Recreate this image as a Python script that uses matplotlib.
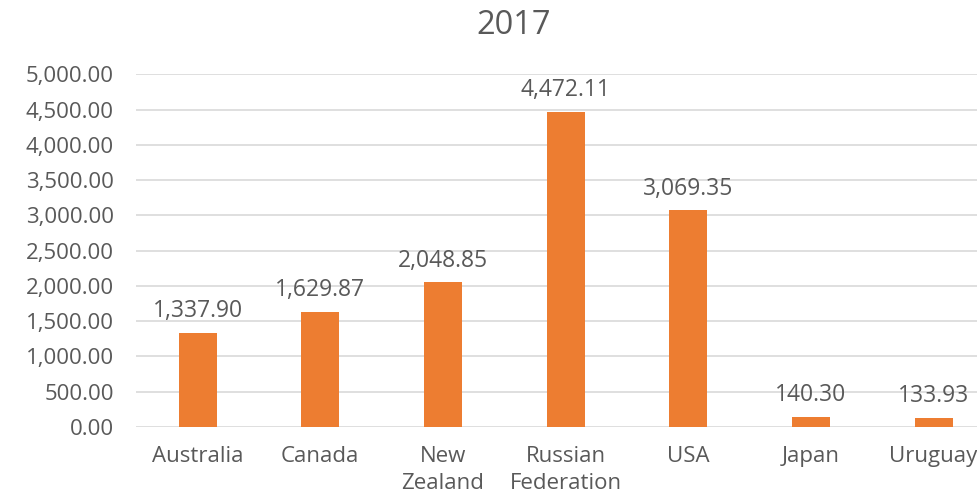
import matplotlib.pyplot as plt
import matplotlib.ticker as ticker

countries = ['Australia', 'Canada', 'New\nZealand', 'Russian\nFederation', 'USA', 'Japan', 'Uruguay']
values = [1337.90, 1629.87, 2048.85, 4472.11, 3069.35, 140.30, 133.93]

plt.rcParams['font.family'] = ['Open Sans', 'DejaVu Sans']
grey = '#595959'

fig = plt.figure(figsize=(9.78, 4.9), dpi=100)
# plot area runs a bit past the right edge, like the cropped original
ax = fig.add_axes([136.2/978, 1-427/490, 858.7/978, (427-74.3)/490])

x = range(len(countries))
bars = ax.bar(x, values, width=0.31, color='#ED7D31', zorder=3)
for b, v in zip(bars, values):
    ax.annotate(f'{v:,.2f}', (b.get_x()+b.get_width()/2, v), xytext=(0, 7),
                textcoords='offset points', ha='center', va='bottom',
                fontsize=16.5, color=grey)

ax.set_xlim(-0.5, len(countries)-0.5)
ax.set_ylim(0, 5000)
ax.set_yticks(range(0, 5001, 500))
ax.yaxis.set_major_formatter(ticker.FuncFormatter(lambda v, p: f'{v:,.2f}'))
ax.set_xticks(list(x))
ax.set_xticklabels(countries, linespacing=1.32)
ax.tick_params(axis='both', length=0, labelsize=16, colors=grey)
ax.tick_params(axis='y', pad=16)
ax.tick_params(axis='x', pad=14)
ax.grid(axis='y', color='#d9d9d9', linewidth=1.2, zorder=0)
for s in ax.spines.values():
    s.set_visible(False)

fig.text(514/978, 1-25/490, '2017', ha='center', va='center', fontsize=23.5, color=grey)

plt.savefig('out.png', dpi=100)
